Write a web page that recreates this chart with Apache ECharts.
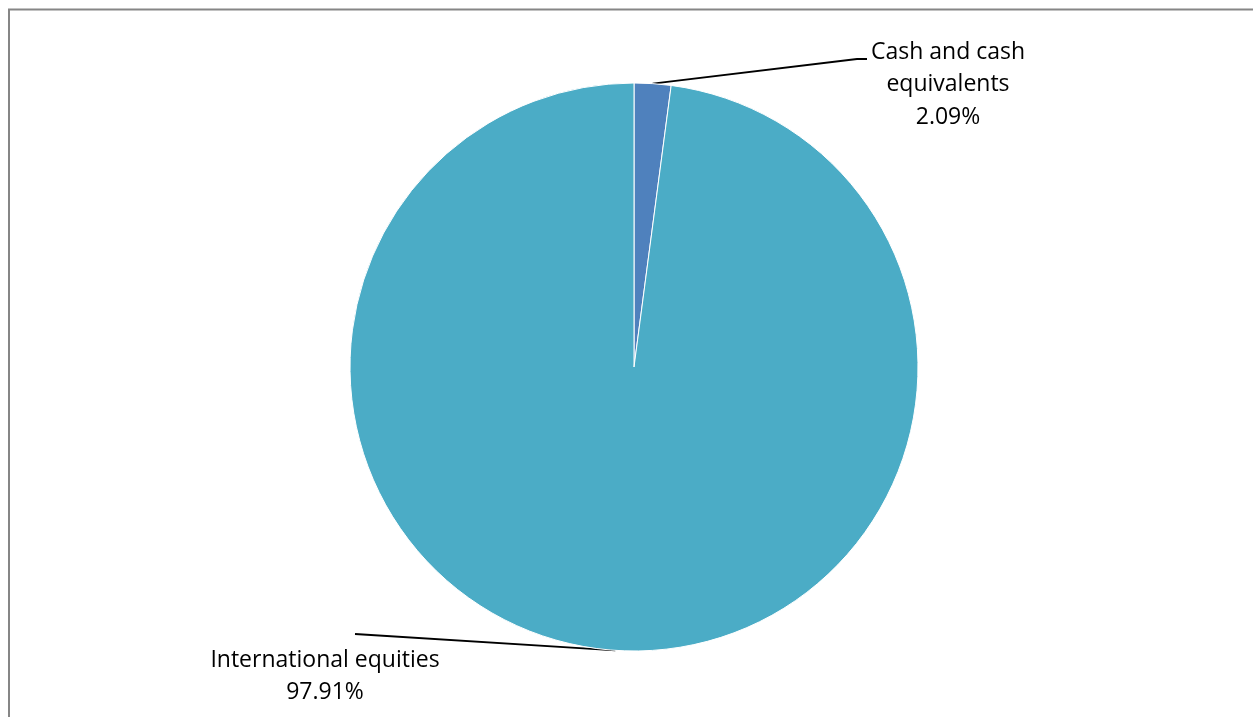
<!DOCTYPE html>
<html><head><meta charset="utf-8">
<script src="https://cdn.jsdelivr.net/npm/echarts@6/dist/echarts.min.js"></script>
<style>html,body{margin:0;padding:0;background:#fff;}#c{width:1253px;height:717px;}</style>
</head><body><div id="c"></div>
<script>
const categories = ['Cash and cash\nequivalents', 'International equities'];
const values = [2.09, 97.91];
const colors = ['#4F81BD', '#4BACC6'];

const chart = echarts.init(document.getElementById('c'));
const labelPos = [
  {x: 948, y: 36, bend: [857, 59], end: [867, 59]},
  {x: 325, y: 644, bend: null, end: [355, 634]}
];
chart.setOption({
  animation: false,
  graphic: [{type: 'rect', shape: {x: 9, y: 9.5, width: 1400, height: 900}, style: {fill: 'none', stroke: '#868686', lineWidth: 2}}],
  series: [{
    type: 'pie',
    center: [634, 367],
    radius: 284,
    startAngle: 90,
    clockwise: true,
    data: categories.map((n, i) => ({name: n, value: values[i], itemStyle: {color: colors[i]}})),
    itemStyle: {borderColor: '#fff', borderWidth: 1},
    label: {
      show: true,
      formatter: p => p.name + '\n' + p.value.toFixed(2) + '%',
      fontFamily: 'Open Sans',
      fontSize: 23,
      lineHeight: 32.5,
      color: '#000',
      align: 'center'
    },
    labelLine: {show: true, lineStyle: {color: '#000', width: 1.8}},
    labelLayout: function (p) {
      const lp = labelPos[p.dataIndex];
      const a = p.labelLinePoints ? p.labelLinePoints[0] : [0, 0];
      const pts = [a];
      if (lp.bend) pts.push(lp.bend);
      pts.push(lp.end);
      return {x: lp.x, y: lp.y, align: 'center', verticalAlign: 'top', labelLinePoints: pts};
    }
  }]
});
</script></body></html>
